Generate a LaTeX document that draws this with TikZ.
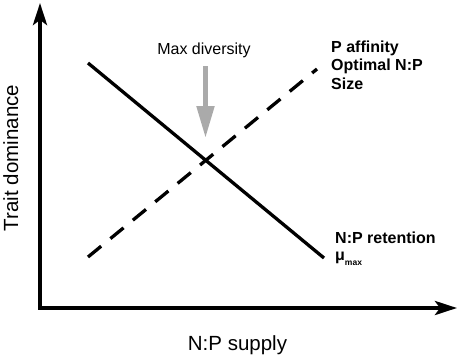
\documentclass[tikz,border=0pt]{standalone}
\usepackage{fontspec}
\setmainfont{Liberation Sans}
\usepackage{xcolor}
\usetikzlibrary{arrows.meta,positioning,calc}
\definecolor{arrowgray}{HTML}{AAAAAA}

\begin{document}
\begin{tikzpicture}[
			x=1pt,
			y=-1pt,
			line join=miter,
			axis/.style={line width=3.8pt,{Stealth[length=22pt,width=14pt,inset=5pt]}-{Stealth[length=22pt,width=14pt,inset=5pt]}},
			trend/.style={line width=3.3pt},
			trenddash/.style={trend,dash pattern=on 17pt off 12pt},
			lbl/.style={inner sep=0pt,font=\fontsize{16}{18.5}\selectfont},
			boldlbl/.style={lbl,font=\fontsize{16}{18.5}\selectfont\bfseries,align=left},
			axlbl/.style={inner sep=0pt,font=\fontsize{20.5}{24}\selectfont}
			]
			
			\useasboundingbox (0,0) rectangle (459,357);
			
			%------------------------------
			% Axes
			%------------------------------
			\coordinate (ytip) at (40,3);
			\coordinate (orig) at (40,308);
			\coordinate (xtip) at (457,308);
			\draw[axis] (ytip) -- (orig) -- (xtip);
			
			\node[axlbl,anchor=base] (xlabel) at (237.5,350) {N:P supply};
			\node[axlbl,anchor=base,rotate=90] (ylabel) at (18,158) {Trait dominance};
			
			%------------------------------
			% Trait lines
			%------------------------------
			\coordinate (sa) at (88,63);
			\coordinate (sb) at (324,258);
			\coordinate (da) at (88,257);
			\coordinate (db) at (317,69);
			\draw[trend] (sa) -- (sb);
			\draw[trenddash] (da) -- (db);
			
			%------------------------------
			% Labels
			%------------------------------
			\node[lbl,anchor=base] (maxdiv) at (204,54) {Max diversity};
			\coordinate (gtop) at (205.5,66);
			\coordinate (gtip) at (205.5,138);
			\draw[arrowgray,line width=5pt,-{Triangle[length=32pt,width=17pt]}] (gtop) -- (gtip);
			
			\node[boldlbl,anchor=north west] (upper) at (331,40.3) {P affinity\\Optimal N:P\\Size};
			\node[boldlbl,anchor=base west] (lower) at (335,243.3) {N:P retention};
			\node[boldlbl,anchor=base west] (mu) at (335,260) {μ\raisebox{-5pt}{\fontsize{8.5}{9}\selectfont max}};
		\end{tikzpicture}
\end{document}
